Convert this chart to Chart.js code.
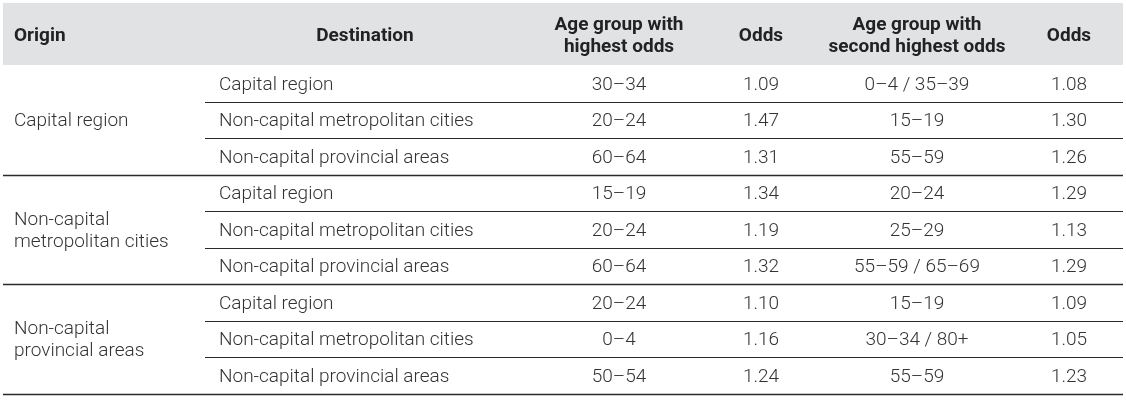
<!DOCTYPE html>
<html>
<head>
<meta charset="utf-8">
<script src="https://cdn.jsdelivr.net/npm/chart.js@4/dist/chart.umd.min.js"></script>
<style>
  html, body { margin: 0; padding: 0; background: #fff; }
  #wrap { width: 1126px; height: 401px; }
</style>
</head>
<body>
<div id="wrap"><canvas id="oddsTable"></canvas></div>
<script>
// table data
const headers = ['Origin', 'Destination', 'Age group with\nhighest odds', 'Odds', 'Age group with\nsecond highest odds', 'Odds'];
const origins = ['Capital region', 'Non-capital\nmetropolitan cities', 'Non-capital\nprovincial areas'];
const destinations = ['Capital region', 'Non-capital metropolitan cities', 'Non-capital provincial areas'];
const topAge = ['30–34', '20–24', '60–64', '15–19', '20–24', '60–64', '20–24', '0–4', '50–54'];
const topOdds = [1.09, 1.47, 1.31, 1.34, 1.19, 1.32, 1.10, 1.16, 1.24];
const secondAge = ['0–4 / 35–39', '15–19', '55–59', '20–24', '25–29', '55–59 / 65–69', '15–19', '30–34 / 80+', '55–59'];
const secondOdds = [1.08, 1.30, 1.26, 1.29, 1.13, 1.29, 1.09, 1.05, 1.23];

// layout (in canvas units, mapped through the x / y scales)
const tableLeft = 3, tableRight = 1123;
const headTop = 3, headBottom = 65, rowH = 36.55;
const subLineLeft = 205;
const colX = [14, 365, 619, 761, 917, 1069];
const colAlign = ['left', 'center', 'center', 'center', 'center', 'center'];
const bodyX = [14, 219, 619, 761, 917, 1069];
const bodyAlign = ['left', 'left', 'center', 'center', 'center', 'center'];

const tablePlugin = {
  id: 'tablePlugin',
  afterDraw(chart) {
    const ctx = chart.ctx;
    const xs = chart.scales.x, ys = chart.scales.y;
    const px = v => xs.getPixelForValue(v);
    const py = v => ys.getPixelForValue(v);
    ctx.save();

    // header band
    ctx.fillStyle = '#e1e2e4';
    ctx.fillRect(px(tableLeft), py(headTop), px(tableRight) - px(tableLeft), py(headBottom) - py(headTop));

    ctx.textBaseline = 'middle';
    const drawLines = (txt, x, yc, align, lh) => {
      const parts = txt.split('\n');
      ctx.textAlign = align;
      parts.forEach((p, i) => {
        ctx.fillText(p, px(x), py(yc + (i - (parts.length - 1) / 2) * lh));
      });
    };

    ctx.font = 'bold 19px Roboto';
    ctx.fillStyle = '#222';
    headers.forEach((h, i) => drawLines(h, colX[i], (headTop + headBottom) / 2 + 2, colAlign[i], 22));

    ctx.font = '300 19px Roboto';
    ctx.fillStyle = '#333';
    const nRows = topAge.length;
    for (let r = 0; r < nRows; r++) {
      const yc = headBottom + rowH * (r + 0.5) + 1.5;
      const cells = [null, destinations[r % destinations.length], topAge[r], topOdds[r].toFixed(2), secondAge[r], secondOdds[r].toFixed(2)];
      cells.forEach((c, i) => { if (c !== null) drawLines(c, bodyX[i], yc, bodyAlign[i], 22); });
    }
    origins.forEach((o, g) => {
      const yc = headBottom + rowH * (g * 3 + 1.5) + 1.5;
      drawLines(o, bodyX[0], yc, bodyAlign[0], 22);
    });

    // rules
    ctx.strokeStyle = '#2a2a2a';
    for (let r = 1; r <= nRows; r++) {
      const y = Math.round(py(headBottom + rowH * r)) + 0.5;
      const full = r % 3 === 0;
      ctx.lineWidth = full ? 1.4 : 1;
      ctx.beginPath();
      ctx.moveTo(px(full ? tableLeft : subLineLeft), y);
      ctx.lineTo(px(tableRight), y);
      ctx.stroke();
    }
    ctx.restore();
  }
};

new Chart(document.getElementById('oddsTable').getContext('2d'), {
  type: 'scatter',
  data: { datasets: [{ data: [] }] },
  options: {
    responsive: true,
    maintainAspectRatio: false,
    animation: false,
    layout: { padding: 0 },
    plugins: { legend: { display: false }, tooltip: { enabled: false } },
    scales: {
      x: { type: 'linear', min: 0, max: 1126, display: false },
      y: { type: 'linear', min: 0, max: 401, reverse: true, display: false }
    }
  },
  plugins: [tablePlugin]
});
</script>
</body>
</html>
